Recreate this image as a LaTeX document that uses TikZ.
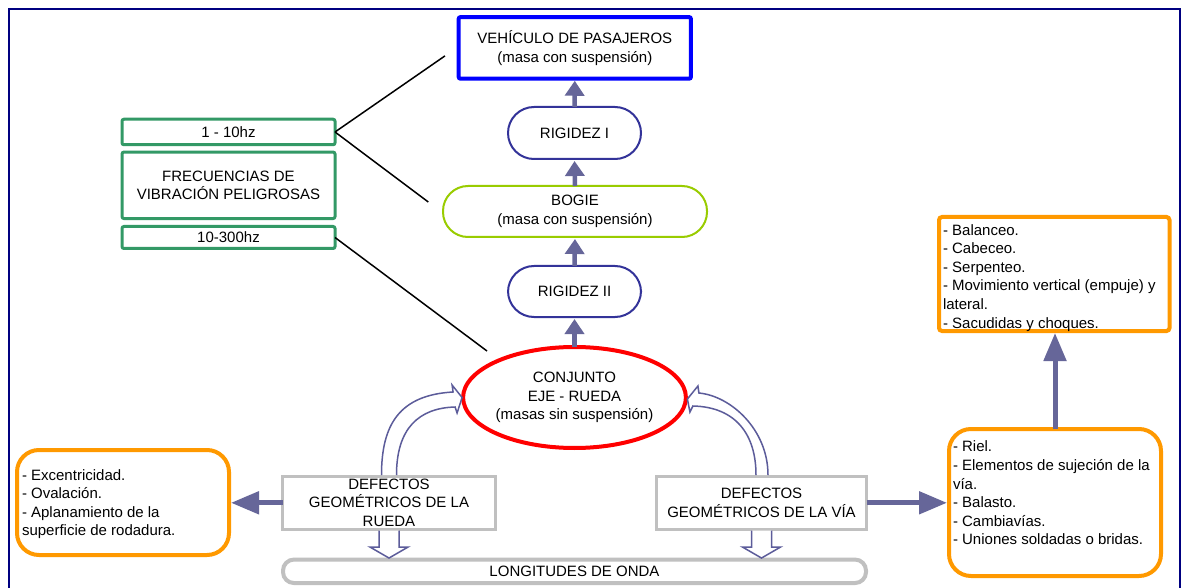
\documentclass[tikz,border=0pt]{standalone}
\usepackage{fontspec}
\setmainfont{Liberation Sans}
\usetikzlibrary{shapes.geometric,arrows.meta,calc}
\definecolor{framenavy}{HTML}{000080}
\definecolor{vehblue}{HTML}{0000FF}
\definecolor{rignavy}{HTML}{333399}
\definecolor{bogiegreen}{HTML}{99CC00}
\definecolor{freqgreen}{HTML}{339966}
\definecolor{axlered}{HTML}{FF0000}
\definecolor{defgray}{HTML}{C0C0C0}
\definecolor{listorange}{HTML}{FF9900}
\definecolor{arrowslate}{HTML}{666699}
\definecolor{hollowslate}{HTML}{5C5C9A}
\newcommand{\txtfont}{\fontsize{15}{18.6}\selectfont}
\tikzset{
  txt/.style={font=\txtfont, align=center, inner sep=0pt, outer sep=0pt},
  vehbox/.style={txt, draw=vehblue, fill=white, line width=4pt, rounded corners=2pt},
  stadium/.style={txt, draw=rignavy, fill=white, line width=2pt, rounded corners=26pt,
    minimum width=133pt, minimum height=52pt},
  bogiebox/.style={txt, draw=bogiegreen, fill=white, line width=2pt, rounded corners=25pt},
  freqbox/.style={txt, draw=freqgreen, fill=white, line width=3pt, rounded corners=2pt,
    minimum width=213pt},
  axlebox/.style={txt, ellipse, draw=axlered, fill=white, line width=4pt},
  defbox/.style={txt, draw=defgray, fill=white, line width=3pt, minimum height=52.5pt},
  listbox/.style={font=\txtfont, draw=listorange, fill=white, line width=4pt, outer sep=0pt},
  flowarrow/.style={draw=arrowslate, line width=4.5pt,
    -{Triangle[length=15pt,width=19pt]}, shorten >=2pt},
  bigarrow/.style={draw=arrowslate, line width=5pt,
    -{Triangle[length=28pt,width=22pt]}, shorten >=2pt},
  hollowarrow/.style={draw=hollowslate, line width=1.5pt, fill=white, line join=miter},
  leader/.style={draw=black, line width=1.5pt},
}
\begin{document}
\begin{tikzpicture}[x=1pt,y=-1pt]
\useasboundingbox (0,0) rectangle (1181,588);
\fill[white] (0,0) rectangle (1181,588);
% outer frame
\draw[framenavy, line width=2pt] (9,600) -- (9,9) -- (1179.5,9) -- (1179.5,600);

% central chain of masses and stiffnesses
\node[vehbox, minimum width=232.3pt, minimum height=61.7pt] (veh) at (574.8,47.9)
  {VEHÍCULO DE PASAJEROS\\(masa con suspensión)};
\node[stadium] (rig1) at (574.5,133) {RIGIDEZ I};
\node[bogiebox, minimum width=264pt, minimum height=51pt] (bogie) at (575,211.5)
  {BOGIE\\(masa con suspensión)};
\node[stadium, minimum height=51pt] (rig2) at (574.5,291.5) {RIGIDEZ II};
\node[axlebox, minimum width=211pt, minimum height=101pt] (conj) at (574.5,397.5)
  {CONJUNTO\\EJE - RUEDA\\(masas sin suspensión)};

% dangerous frequency boxes
\node[freqbox, minimum height=25.5pt] (f1) at (228.5,132) {1 - 10hz};
\node[freqbox, minimum height=66.5pt] (f2) at (228.5,185.3)
  {FRECUENCIAS DE\\VIBRACIÓN PELIGROSAS};
\node[freqbox, minimum height=22pt] (f3) at (228.5,237.5) {10-300hz};

% geometric defects and wavelengths
\node[defbox, minimum width=213pt] (defr) at (389,502.8)
  {DEFECTOS\\GEOMÉTRICOS DE LA\\RUEDA};
\node[defbox, minimum width=210pt] (defv) at (761.5,502.8)
  {DEFECTOS\\GEOMÉTRICOS DE LA VÍA};
\node[txt, draw=defgray, fill=white, line width=4pt, rounded corners=11pt,
  minimum width=583pt, minimum height=23.5pt] (long) at (574.5,571.3) {LONGITUDES DE ONDA};

% lists
\node[listbox, rounded corners=22pt, inner xsep=5pt, inner ysep=19.3pt] (lefto) at (123,502.5)
  {\parbox[c][66.4pt][t]{202pt}{\raggedright
   - Excentricidad.\\- Ovalación.\\- Aplanamiento de la\\superficie de rodadura.}};
\node[listbox, rounded corners=22pt, inner xsep=4pt, inner ysep=12pt] (righto) at (1055,502.5)
  {\parbox[c][123pt][t]{204pt}{\raggedright
   - Riel.\\- Elementos de sujeción de la\\vía.\\- Balasto.\\- Cambiavías.\\- Uniones soldadas o bridas.}};
\node[listbox, rounded corners=3pt, inner xsep=4pt, inner ysep=7.3pt] (topo) at (1054.25,274)
  {\parbox[c][99.4pt][t]{222.5pt}{\raggedright
   - Balanceo.\\- Cabeceo.\\- Serpenteo.\\- Movimiento vertical (empuje) y\\lateral.\\- Sacudidas y choques.}};

% leader lines from the frequency ranges
\coordinate (vehend) at ($(veh.west)+(-13.7,8)$);
\coordinate (bogend) at ($(bogie.west)+(-14.7,-9.5)$);
\coordinate (conjend) at (487,351);
\draw[leader] (f1.east) -- (vehend);
\draw[leader] (f1.east) -- (bogend);
\draw[leader] (f3.east) -- (conjend);

% upward transmission arrows
\draw[flowarrow] (rig1.north) -- (veh.south);
\draw[flowarrow] (bogie.north) -- (rig1.south);
\draw[flowarrow] (rig2.north) -- (bogie.south);
\draw[flowarrow] (conj.north) -- (rig2.south);

% arrows to the lists
\draw[bigarrow] (defr.west) -- (defr.west -| lefto.east);
\draw[bigarrow] (defv.east) -- (defv.east -| righto.west);
\draw[bigarrow] (righto.north) -- (righto.north |- topo.south);

% hollow arrows down to the wavelengths
\foreach \src in {defr,defv}{
  \coordinate (top) at ($(\src.south)+(0,1.5)$);
  \coordinate (tip) at ($(\src.south |- long.north)+(0,-1.5)$);
  \draw[hollowarrow] ($(top)+(-10,0)$) -- ($(top)+(-10,16.5)$) -- ($(top)+(-19,16.5)$)
    -- (tip) -- ($(top)+(19,16.5)$) -- ($(top)+(10,16.5)$) -- ($(top)+(10,0)$);
}

% curved hollow arrows into the wheelset
\coordinate (lb) at (defr.north);
\coordinate (lt) at (conj.west);
\draw[hollowarrow] ($(lb)+(-7.5,-1.5)$) .. controls ($(lb)+(-7.5,-51.5)$) and ($(lt)+(-64,-2.5)$)
  .. ($(lt)+(-10,-5.5)$) -- ($(lt)+(-11,-12.5)$) -- ($(lt)+(-1,0)$) -- ($(lt)+(-6,15.5)$)
  -- ($(lt)+(-8,9.5)$) .. controls ($(lt)+(-44,10.5)$) and ($(lb)+(7.5,-48.5)$)
  .. ($(lb)+(7.5,-1.5)$);
\coordinate (rb) at (defv.north);
\coordinate (rt) at (conj.east);
\draw[hollowarrow] ($(rb)+(6.5,-1.5)$) .. controls ($(rb)+(6.5,-47)$) and ($(rt)+(45,-1.5)$)
  .. ($(rt)+(13,-4.5)$) -- ($(rt)+(12,-11.5)$) -- ($(rt)+(1.5,1.5)$) -- ($(rt)+(4,14.5)$)
  -- ($(rt)+(7,8.5)$) .. controls ($(rt)+(50,9.5)$) and ($(rb)+(-5.5,-42)$)
  .. ($(rb)+(-5.5,-1.5)$);
\end{tikzpicture}
\end{document}
